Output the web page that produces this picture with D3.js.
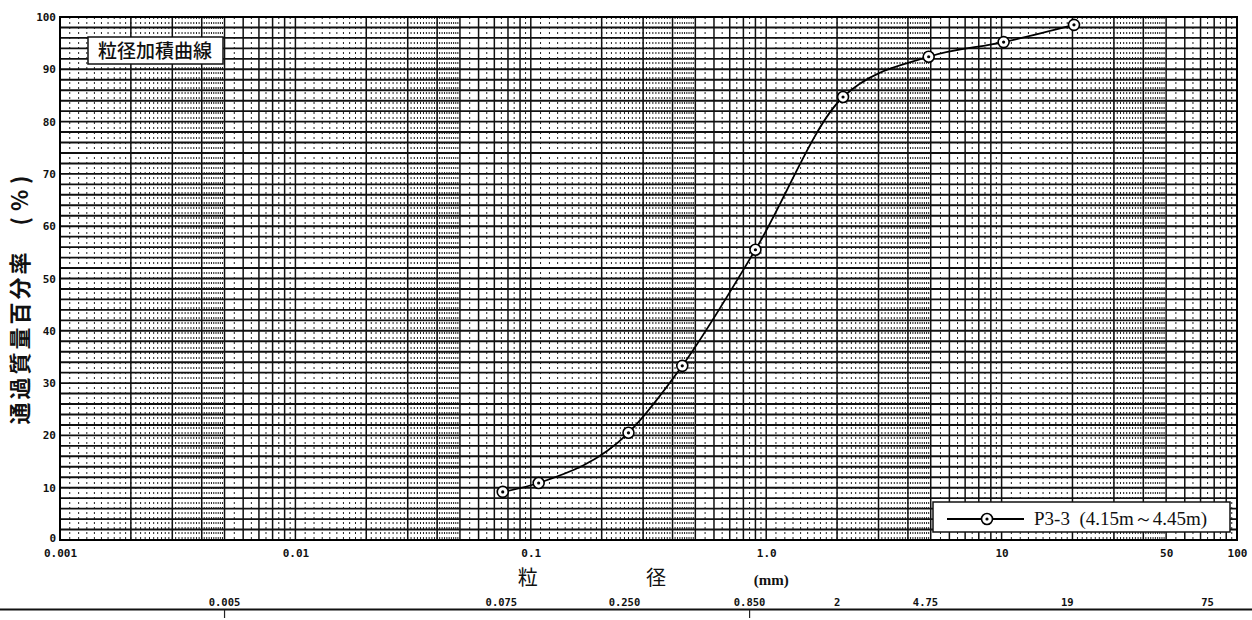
<!DOCTYPE html>
<html>
<head>
<meta charset="utf-8">
<script src="https://cdn.jsdelivr.net/npm/d3@7"></script>
<style>
  html, body { margin: 0; padding: 0; background: #ffffff; }
  svg { display: block; }
</style>
</head>
<body>
<svg id="chart" width="1252" height="620"></svg>
<script>
// ---- data ----
const grainSize = [0.076, 0.108, 0.26, 0.44, 0.9, 2.12, 4.9, 10.2, 20.3];      // mm
const passingPct = [9.2, 10.9, 20.5, 33.3, 55.5, 84.7, 92.4, 95.2, 98.5];     // %
const xTickValues = [0.001, 0.01, 0.1, 1, 10, 50, 100];
const xTickLabels = ["0.001", "0.01", "0.1", "1.0", "10", "50", "100"];
const yTickValues = [0, 10, 20, 30, 40, 50, 60, 70, 80, 90, 100];
const sieveValues = [0.005, 0.075, 0.25, 0.85, 2, 4.75, 19, 75];
const sieveLabels = ["0.005", "0.075", "0.250", "0.850", "2", "4.75", "19", "75"];
const dividerValues = [0.005, 0.85];
const seriesName = "P3-3  (4.15m～4.45m)";
const chartTitle = "粒径加積曲線";
const yTitle = "通過質量百分率";
const yUnit = "(%)";
const xTitleChars = ["粒", "径"];
const xUnit = "(mm)";

// ---- layout ----
const svg = d3.select("#chart");
const L = 60, R = 1237, T = 17, B = 540;
const x = d3.scaleLog().domain([0.001, 100]).range([L, R]);
const y = d3.scaleLinear().domain([0, 100]).range([B, T]);
const tickFont = "'DejaVu Sans Mono', monospace";
const cjkFont = "'Noto Sans CJK JP', sans-serif";

svg.append("rect").attr("width", 1252).attr("height", 620).attr("fill", "#ffffff");

// ---- grid ----
const grid = svg.append("g");
const minorV = [], majorV = [];
for (let d = -3; d <= 1; d++) {
  const base = Math.pow(10, d);
  for (let k = 11; k < 50; k++) minorV.push(+(k / 10 * base).toPrecision(6));
  for (let k = 55; k < 100; k += 5) if (k % 10 !== 0) minorV.push(+(k / 10 * base).toPrecision(6));
  for (let k = 1; k <= 9; k++) majorV.push(+(k * base).toPrecision(6));
}
majorV.push(100);
grid.selectAll("line.minorv").data(minorV).join("line")
  .attr("x1", d => x(d)).attr("x2", d => x(d)).attr("y1", T).attr("y2", B)
  .attr("stroke", "#222").attr("stroke-width", 1).attr("stroke-dasharray", "2,3");
grid.selectAll("line.majorv").data(majorV).join("line")
  .attr("x1", d => x(d)).attr("x2", d => x(d)).attr("y1", T).attr("y2", B)
  .attr("stroke", "#111").attr("stroke-width", 1.5);
grid.selectAll("line.h").data(d3.range(0, 101, 2)).join("line")
  .attr("x1", L).attr("x2", R).attr("y1", d => y(d)).attr("y2", d => y(d))
  .attr("stroke", "#111").attr("stroke-width", 1.9);
svg.append("rect").attr("x", L).attr("y", T).attr("width", R - L).attr("height", B - T)
  .attr("fill", "none").attr("stroke", "#000").attr("stroke-width", 2);

// ---- axes labels ----
const yAxis = d3.axisLeft(y).tickValues(yTickValues).tickSize(0).tickPadding(4);
const gy = svg.append("g").attr("transform", `translate(${L},0)`).call(yAxis);
gy.select(".domain").remove();
gy.selectAll("text").attr("font-family", tickFont).attr("font-size", 11).attr("font-weight", "bold").attr("fill", "#111");
gy.selectAll(".tick").filter(d => d === 0).select("text").attr("dy", "0.1em");

const xAxis = d3.axisBottom(x).tickValues(xTickValues).tickSize(0).tickPadding(9)
  .tickFormat((d, i) => xTickLabels[i]);
const gx = svg.append("g").attr("transform", `translate(0,${B})`).call(xAxis);
gx.select(".domain").remove();
gx.selectAll("text").attr("font-family", tickFont).attr("font-size", 11).attr("font-weight", "bold").attr("fill", "#111");

// ---- axis titles ----
svg.append("text")
  .attr("transform", "translate(28,297) rotate(-90)")
  .attr("text-anchor", "middle")
  .attr("font-family", cjkFont).attr("font-size", 22).attr("font-weight", "bold").attr("fill", "#111")
  .selectAll("tspan").data([yTitle, yUnit]).join("tspan")
  .attr("dx", (d, i) => i ? 24 : 0)
  .attr("letter-spacing", (d, i) => i ? 6 : 3)
  .text(d => d);

svg.selectAll("text.xt").data(xTitleChars).join("text")
  .attr("x", (d, i) => x(i ? 0.34 : 0.097)).attr("y", 585)
  .attr("text-anchor", "middle")
  .attr("font-family", cjkFont).attr("font-size", 20).attr("fill", "#111")
  .text(d => d);
svg.append("text").attr("x", x(1.05)).attr("y", 585).attr("text-anchor", "middle")
  .attr("font-family", "'Liberation Serif', serif").attr("font-size", 15).attr("font-weight", "bold").attr("fill", "#111")
  .text(xUnit);

// ---- sieve row ----
svg.selectAll("text.sieve").data(sieveValues).join("text")
  .attr("x", d => x(d)).attr("y", 606).attr("text-anchor", "middle")
  .attr("font-family", tickFont).attr("font-size", 10.5).attr("font-weight", "bold").attr("fill", "#111")
  .text((d, i) => sieveLabels[i]);
svg.append("line").attr("x1", 0).attr("x2", 1252).attr("y1", 609.5).attr("y2", 609.5)
  .attr("stroke", "#111").attr("stroke-width", 2);
svg.selectAll("line.div").data(dividerValues).join("line")
  .attr("x1", d => x(d)).attr("x2", d => x(d)).attr("y1", 610).attr("y2", 618)
  .attr("stroke", "#222").attr("stroke-width", 1.2);

// ---- title box ----
svg.append("rect").attr("x", 88).attr("y", 37).attr("width", 135).attr("height", 27)
  .attr("fill", "#fff").attr("stroke", "#111").attr("stroke-width", 1.5);
svg.append("text").attr("x", 155).attr("y", 58).attr("text-anchor", "middle")
  .attr("font-family", cjkFont).attr("font-size", 19).attr("font-weight", "500").attr("fill", "#111").text(chartTitle);

// ---- curve ----
const pts = grainSize.map((g, i) => [g, passingPct[i]]);
const line = d3.line().x(d => x(d[0])).y(d => y(d[1])).curve(d3.curveMonotoneX);
svg.append("path").attr("d", line(pts)).attr("fill", "none").attr("stroke", "#000").attr("stroke-width", 1.8);
const mk = svg.selectAll("g.mk").data(pts).join("g")
  .attr("transform", d => `translate(${x(d[0])},${y(d[1])})`);
mk.append("circle").attr("r", 5.5).attr("fill", "#fff").attr("stroke", "#000").attr("stroke-width", 1.6);
mk.append("circle").attr("r", 1.6).attr("fill", "#000");

// ---- legend ----
const lg = svg.append("g");
lg.append("rect").attr("x", 933).attr("y", 502).attr("width", 297).attr("height", 30)
  .attr("fill", "#fff").attr("stroke", "#111").attr("stroke-width", 1.5);
lg.append("line").attr("x1", 947).attr("x2", 1024).attr("y1", 519).attr("y2", 519)
  .attr("stroke", "#000").attr("stroke-width", 1.8);
lg.append("circle").attr("cx", 987).attr("cy", 519).attr("r", 5.5).attr("fill", "#fff").attr("stroke", "#000").attr("stroke-width", 1.6);
lg.append("circle").attr("cx", 987).attr("cy", 519).attr("r", 1.6).attr("fill", "#000");
lg.append("text").attr("x", 1034).attr("y", 525).attr("xml:space", "preserve")
  .style("white-space", "pre")
  .attr("font-family", "'Liberation Serif', serif").attr("font-size", 19).attr("fill", "#111")
  .text(seriesName);
</script>
</body>
</html>
